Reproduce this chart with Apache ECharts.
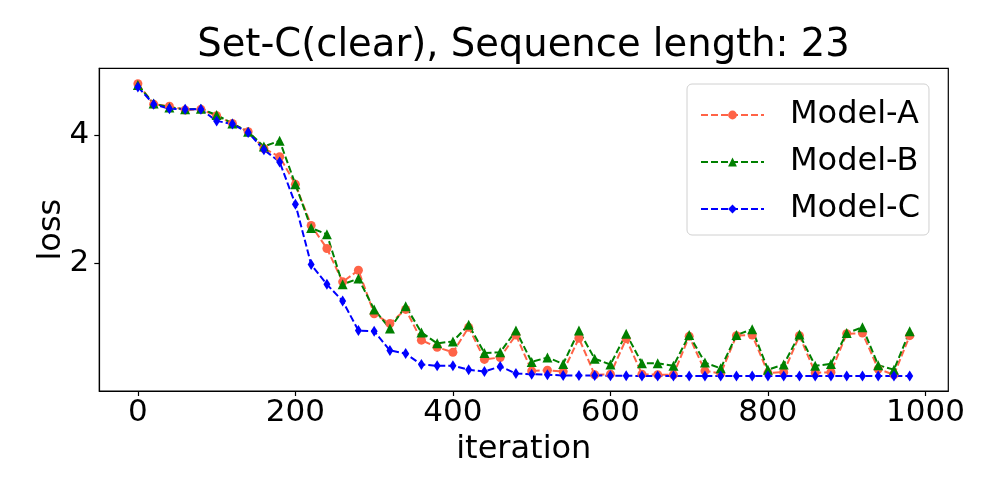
<!DOCTYPE html>
<html><head><meta charset="utf-8">
<script src="https://cdn.jsdelivr.net/npm/echarts@6/dist/echarts.min.js"></script>
<style>html,body{margin:0;padding:0;background:#fff}#c{width:1000px;height:500px}</style>
</head><body><div id="c"></div>
<script>
const iterations = [0,20,40,60,80,100,120,140,160,180,200,220,240,260,280,300,320,340,360,380,400,420,440,460,480,500,520,540,560,580,600,620,640,660,680,700,720,740,760,780,800,820,840,860,880,900,920,940,960,980];
const modelA = [4.80,4.48,4.45,4.39,4.40,4.30,4.18,4.05,3.79,3.66,3.23,2.59,2.23,1.71,1.89,1.21,1.06,1.28,0.80,0.69,0.61,1.00,0.50,0.53,0.88,0.32,0.33,0.31,0.83,0.26,0.27,0.82,0.27,0.26,0.26,0.86,0.32,0.28,0.87,0.88,0.29,0.30,0.87,0.29,0.30,0.90,0.91,0.35,0.26,0.87];
const modelB = [4.78,4.49,4.43,4.40,4.41,4.31,4.18,4.05,3.82,3.91,3.23,2.55,2.45,1.67,1.76,1.28,0.98,1.33,0.92,0.75,0.78,1.04,0.60,0.61,0.95,0.46,0.53,0.43,0.95,0.51,0.42,0.90,0.44,0.44,0.40,0.88,0.45,0.36,0.88,0.97,0.34,0.42,0.89,0.40,0.43,0.91,1.00,0.41,0.34,0.94];
const modelC = [4.75,4.48,4.41,4.40,4.40,4.22,4.17,4.04,3.77,3.58,2.92,1.98,1.67,1.41,0.95,0.94,0.64,0.59,0.42,0.40,0.40,0.34,0.31,0.39,0.28,0.27,0.26,0.25,0.25,0.25,0.245,0.245,0.24,0.24,0.24,0.24,0.24,0.24,0.24,0.24,0.24,0.24,0.24,0.24,0.24,0.24,0.24,0.24,0.24,0.24];
const xTicks = [0,200,400,600,800,1000];
const yTicks = [2,4];
const seriesNames = ['Model-A','Model-B','Model-C'];
const titleText = 'Set-C(clear), Sequence length: 23';

const F = 'DejaVu Sans';
const pair = (ys) => iterations.map((x,i)=>[x, ys[i]]);
const mk = (name, ys, color, symbol, size) => ({
  name, type:'line', data: pair(ys), symbol, symbolSize: size, showSymbol:true,
  lineStyle:{color, width:2, type:[7,3]},
  itemStyle:{color, borderWidth:0},
  emphasis:{disabled:true}, animation:false
});
const chart = echarts.init(document.getElementById('c'));
chart.setOption({
  animation:false,
  title:{text:titleText, left:518.5, textAlign:'center', top:21,
    textStyle:{fontFamily:F, fontSize:38.5, fontWeight:'normal', color:'#000'}},
  grid:{left:99.3, right:51.7, top:68.3, bottom:109, show:true, borderColor:'#000', borderWidth:1.2, containLabel:false},
  xAxis:{type:'value', min:-49, max:1029, name:'iteration', nameLocation:'middle', nameGap:43, nameMoveOverlap:false,
    nameTextStyle:{fontFamily:F, fontSize:32, color:'#000'},
    axisLine:{show:true, onZero:false, lineStyle:{color:'#000', width:1.2}},
    axisTick:{show:true, customValues:xTicks, length:5, lineStyle:{color:'#000', width:1.2}},
    axisLabel:{customValues:xTicks, formatter:(v)=>String(v), fontFamily:F, fontSize:31, color:'#000', margin:6},
    splitLine:{show:false}},
  yAxis:{type:'value', min:0.007, max:5.04, name:'loss', nameLocation:'middle', nameGap:32, nameMoveOverlap:false,
    nameTextStyle:{fontFamily:F, fontSize:32, color:'#000'},
    axisLine:{show:true, onZero:false, lineStyle:{color:'#000', width:1.2}},
    axisTick:{show:true, customValues:yTicks, length:5, lineStyle:{color:'#000', width:1.2}},
    axisLabel:{customValues:yTicks, formatter:(v)=>String(v), fontFamily:F, fontSize:31, color:'#000', margin:10},
    splitLine:{show:false}},
  legend:{orient:'vertical', left:687, top:84, width:245, data:seriesNames,
    backgroundColor:'rgba(255,255,255,0.8)', borderColor:'#d0d0d0', borderWidth:1, borderRadius:5,
    padding:[15,9,10,13], itemWidth:63, itemHeight:11, itemGap:15,
    textStyle:{fontFamily:F, fontSize:32, color:'#000', padding:[0,0,0,21]}},
  series:[
    mk(seriesNames[0], modelA, '#FF6347', 'circle', 9),
    mk(seriesNames[1], modelB, '#008000', 'triangle', 10),
    mk(seriesNames[2], modelC, '#0000FF', 'diamond', [7,11])
  ]
});
</script></body></html>
